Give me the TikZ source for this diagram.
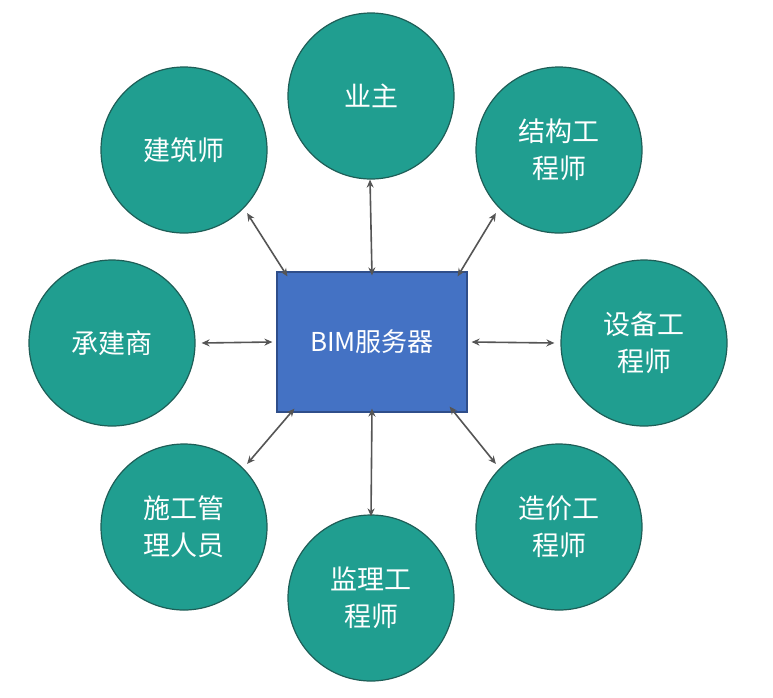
\documentclass[tikz,border=0pt]{standalone}
\usepackage{fontspec}
\setmainfont{Noto Sans CJK SC}
\usetikzlibrary{arrows.meta}
\definecolor{tealfill}{HTML}{209E90}
\definecolor{tealline}{HTML}{1E5E57}
\definecolor{boxfill}{HTML}{4472C4}
\definecolor{boxline}{HTML}{2F4E8A}
\definecolor{arrgray}{HTML}{555555}
\tikzset{
  role/.style={circle, draw=tealline, line width=1.2pt, fill=tealfill, minimum size=166pt, inner sep=0pt,
    text=white, font=\fontsize{27}{37}\selectfont, align=center},
  server/.style={rectangle, draw=boxline, line width=1.2pt, fill=boxfill, minimum width=190pt, minimum height=140pt,
    text=white, font=\fontsize{26}{30}\selectfont},
  link/.style={{Stealth[length=8pt,width=7pt]}-{Stealth[length=8pt,width=7pt]}, draw=arrgray, line width=1.6pt}
}
\begin{document}
\begin{tikzpicture}[x=1pt,y=-1pt]
\useasboundingbox (0,0) rectangle (773,697);
\fill[white] (0,0) rectangle (773,697);
\node[server] (bim) at (372,342) {BIM服务器};
\node[role] (yz) at (371,96) {业主};
\node[role] (jz) at (184,150) {建筑师};
\node[role] (jg) at (559,150) {结构工\\程师};
\node[role] (cj) at (112,343) {承建商};
\node[role] (sb) at (644,343) {设备工\\程师};
\node[role] (sg) at (184,527) {施工管\\理人员};
\node[role] (jl) at (371,598) {监理工\\程师};
\node[role] (zj) at (559,527) {造价工\\程师};
% connectors
\draw[link] ([shift={(-1,0)}]yz.south) -- ([shift={(0,4)}]bim.north);
\draw[link] ([shift={(4,4)}]jz.-45) -- ([shift={(11,5)}]bim.north west);
\draw[link] ([shift={(-4,4)}]jg.-135) -- ([shift={(-10,5)}]bim.north east);
\draw[link] ([shift={(6,0)}]cj.east) -- ([shift={(-4,0)}]bim.west);
\draw[link] ([shift={(-6,0)}]sb.west) -- ([shift={(4,0)}]bim.east);
\draw[link] ([shift={(4,-4)}]sg.45) -- ([shift={(18,-4)}]bim.south west);
\draw[link] ([shift={(0,2)}]jl.north) -- ([shift={(0,-4)}]bim.south);
\draw[link] ([shift={(-4,-4)}]zj.135) -- ([shift={(-18,-6)}]bim.south east);
\end{tikzpicture}
\end{document}
